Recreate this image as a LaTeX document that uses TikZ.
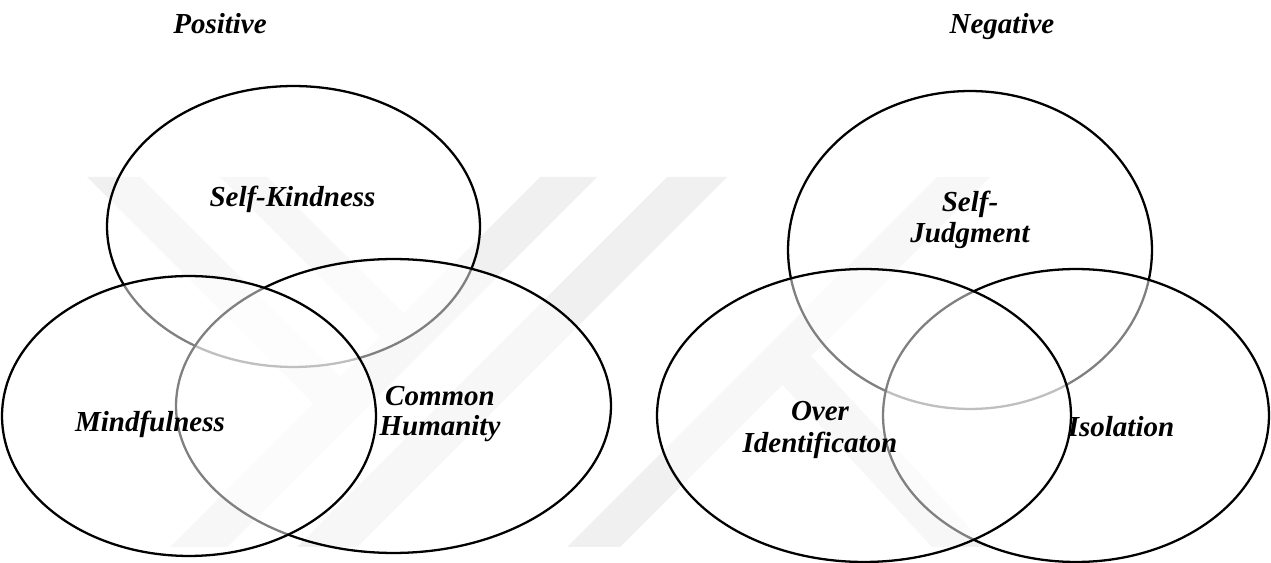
\documentclass[tikz,border=0pt]{standalone}
\usepackage{fontspec}
\setmainfont{Liberation Serif}
\usetikzlibrary{shapes.geometric}

\begin{document}
\begin{tikzpicture}[x=0.02cm,y=-0.02cm,
        venn/.style={ellipse,draw,line width=1.3pt,fill=white,fill opacity=.5,text opacity=1,inner sep=0pt},
        lbl/.style={font=\fontsize{16.5}{17.5}\selectfont\bfseries\itshape,align=center,inner sep=0pt}]
        \useasboundingbox (0,0) rectangle (1271,563);
        % faint stripes in the background
        \fill[black!6] (540,177)--(597,177)--(227,547)--(170,547)--cycle;
        \fill[black!6] (87,177)--(140,177)--(340,377)--(313.5,403.5)--cycle;
        \fill[black!6] (220,177)--(267,177)--(403.5,313.5)--(380,337)--cycle;
        \fill[black!6] (667,177)--(727,177)--(357,547)--(297,547)--cycle;
        \fill[black!6] (937,177)--(990,177)--(620,547)--(567,547)--cycle;
        \fill[black!6] (757,357)--(812,357)--(987,547)--(932,547)--cycle;
        % positive side
        \node[lbl,anchor=base] (pos) at (220,34) {Positive};
        \node[venn,minimum width=7.46cm,minimum height=5.62cm] (sk) at (293.5,226.5) {};
        \node[lbl] (skl) at (292.5,199) {Self-Kindness};
        \node[venn,minimum width=8.70cm,minimum height=5.88cm] (ch) at (393.5,406) {};
        \node[lbl] (chl) at (440,414) {Common\\Humanity};
        \node[venn,minimum width=7.48cm,minimum height=5.60cm] (mf) at (189,416) {};
        \node[lbl] (mfl) at (150,424) {Mindfulness};
        % negative side
        \node[lbl,anchor=base] (neg) at (1002,34) {Negative};
        \node[venn,minimum width=7.28cm,minimum height=6.36cm] (sj) at (970,250) {};
        \node[lbl,font=\fontsize{16.5}{18}\selectfont\bfseries\itshape] (sjl) at (970,220) {Self-\\Judgment};
        \node[venn,minimum width=7.72cm,minimum height=5.86cm] (iso) at (1076,415.5) {};
        \node[lbl] (isol) at (1121,426.5) {Isolation};
        \node[venn,minimum width=8.28cm,minimum height=5.86cm] (oi) at (864,415.5) {};
        \node[lbl,font=\fontsize{16.5}{18}\selectfont\bfseries\itshape] (oil) at (820,430) {Over\\Identificaton};
    \end{tikzpicture}
\end{document}
